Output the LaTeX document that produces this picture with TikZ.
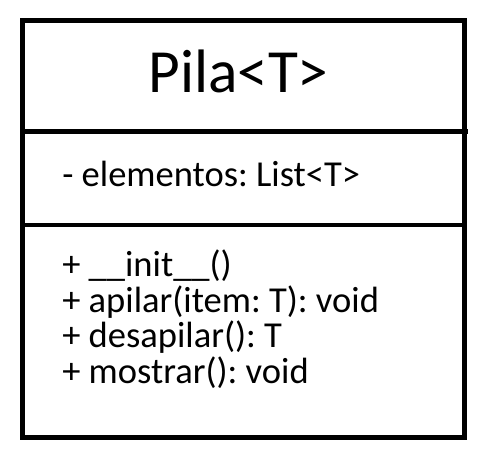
\documentclass[tikz,border=0pt]{standalone}
\usepackage{fontspec}
\setmainfont{Carlito}
\usepackage{tikz}
\usetikzlibrary{calc}
\frenchspacing
\tikzset{
  umlline/.style={line width=3.6pt},
  titletext/.style={inner sep=0pt,anchor=base,font=\fontsize{46}{50}\selectfont},
  membertext/.style={inner sep=0pt,anchor=base west,font=\fontsize{27.4}{32}\selectfont}
}
\begin{document}
\begin{tikzpicture}[line cap=butt,line join=miter,x=0.75pt,y=-0.75pt]
                \useasboundingbox (0,0) rectangle (488,458);
                % class box
                \draw [umlline] (22.5,20.5) rectangle (464.5,437.5);
                \draw [umlline] (22.5,131.5)-- (468,131.5);
                \draw [umlline] (22.5,225)-- (464.5,225);
                % name
                \node[titletext] (nombre) at (238.5,92) {Pila<T>};
                % attributes
                \node[membertext] (elementos) at (62,186) {- elementos: List<T>};
                % methods
                \node[membertext] (init) at (62,276) {+ \_\_init\_\_()};
                \node[membertext] (apilar) at (62,312) {+ apilar(item: T): void};
                \node[membertext] (desapilar) at (62,347.5) {+ desapilar(): T};
                \node[membertext] (mostrar) at (62,383) {+ mostrar(): void};
\end{tikzpicture}
\end{document}
